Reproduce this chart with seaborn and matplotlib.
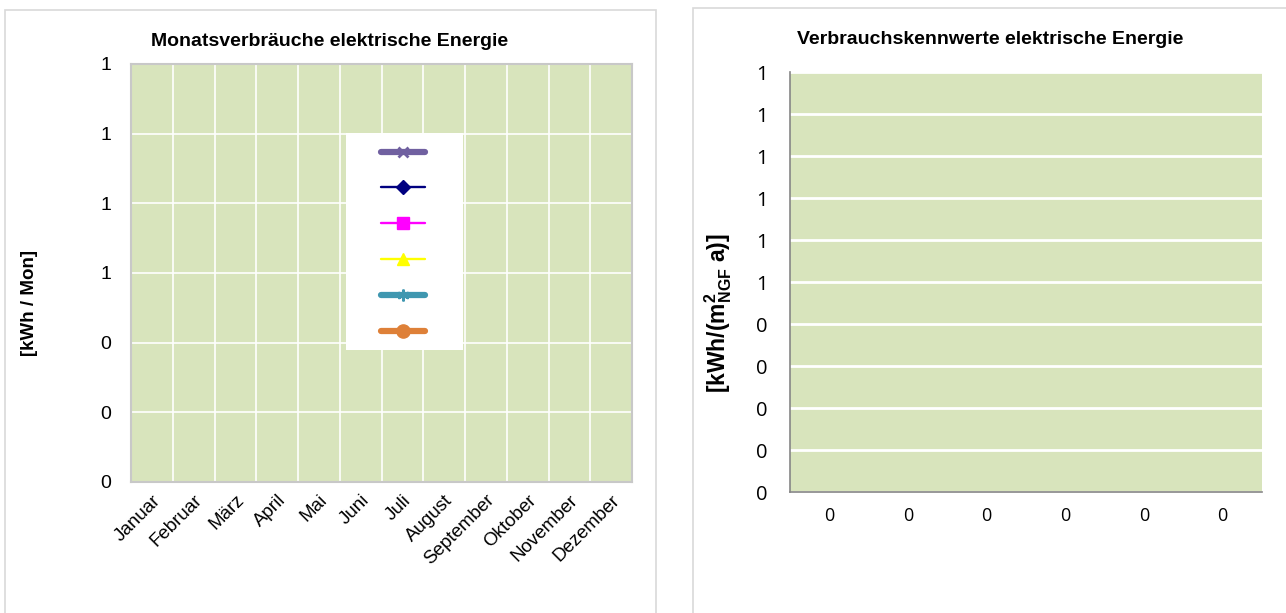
import numpy as np
import matplotlib
matplotlib.use("Agg")
import matplotlib.pyplot as plt
from matplotlib.patches import Rectangle
import seaborn as sns

# ---- data -------------------------------------------------------------
monate = ["Januar", "Februar", "März", "April", "Mai", "Juni", "Juli",
          "August", "September", "Oktober", "November", "Dezember"]
# monthly consumption per series (no readings entered yet)
reihe_1 = [np.nan] * 12
reihe_2 = [np.nan] * 12
reihe_3 = [np.nan] * 12
reihe_4 = [np.nan] * 12
reihe_5 = [np.nan] * 12
reihe_6 = [np.nan] * 12

monat_yticks = [0.0, 0.2, 0.4, 0.6, 0.8, 1.0, 1.2]
monat_ylabels = ["0", "0", "0", "1", "1", "1", "1"]

kennwert_kategorien = ["0", "0", "0", "0", "0", "0"]
kennwert_werte = [0.0, 0.0, 0.0, 0.0, 0.0, 0.0]
kennwert_yticks = [0.0, 0.1, 0.2, 0.3, 0.4, 0.5, 0.6, 0.7, 0.8, 0.9, 1.0]
kennwert_ylabels = ["0", "0", "0", "0", "0", "1", "1", "1", "1", "1", "1"]

# ---- style ------------------------------------------------------------
sns.set_theme(style="white")
plt.rcParams["font.family"] = ["Liberation Sans", "DejaVu Sans"]
plt.rcParams["text.color"] = "black"
plt.rcParams["xtick.labelcolor"] = "black"
plt.rcParams["ytick.labelcolor"] = "black"
plt.rcParams["mathtext.fontset"] = "custom"
plt.rcParams["mathtext.rm"] = "Liberation Sans:bold"
plt.rcParams["mathtext.it"] = "Liberation Sans:bold"
plt.rcParams["mathtext.bf"] = "Liberation Sans:bold"

W, H = 1286, 613
fig = plt.figure(figsize=(W / 100, H / 100), dpi=100)
fig.patch.set_facecolor("white")

def fx(px):
    return px / W

def fy(py):
    return 1 - py / H

# chart area frames
for x0, y0, x1 in [(5, 10, 656), (693, 8, 1300)]:
    fig.patches.append(Rectangle((fx(x0), fy(640)), fx(x1 - x0), (640 - y0) / H,
                                 transform=fig.transFigure, fill=False,
                                 edgecolor="#d9d9d9", linewidth=1.2, zorder=0))

plot_bg = "#d8e4bc"

# ---- left: monthly consumption ---------------------------------------
ax1 = fig.add_axes([fx(131), fy(482), fx(632 - 131), (482 - 64) / H])
ax1.set_facecolor(plot_bg)
x = np.arange(len(monate))
serien = [
    (reihe_1, "#7060a0", "x", 7.5, 4.5, 2.0),
    (reihe_2, "#000080", "D", 7, 1.7, 1.0),
    (reihe_3, "#ff00ff", "s", 8.5, 1.7, 1.0),
    (reihe_4, "#ffff00", "^", 9, 1.7, 1.0),
    (reihe_5, "#3f97b0", (6, 2, 0), 8.5, 4.5, 1.6),
    (reihe_6, "#de8038", "o", 9.5, 4.5, 1.0),
]
handles = []
for werte, farbe, marker, ms, lw, mew in serien:
    ln, = ax1.plot(x, werte, color=farbe, marker=marker, markersize=ms,
                   linewidth=lw, markeredgewidth=mew, solid_capstyle="round")
    handles.append(ln)

ax1.set_xlim(-0.5, len(monate) - 0.5)
ax1.set_ylim(monat_yticks[0], monat_yticks[-1])
ax1.set_yticks(monat_yticks)
ax1.set_yticklabels(monat_ylabels, fontsize=14)
ax1.set_xticks(np.arange(len(monate) + 1) - 0.5)
ax1.set_xticklabels([])
ax1.set_xticks(x, minor=True)
ax1.set_xticklabels(monate, minor=True, rotation=45, ha="right",
                    rotation_mode="anchor", fontsize=13.5)
ax1.tick_params(axis="x", which="major", length=5, color="#c0c0c0", width=1, direction="out")
ax1.tick_params(axis="x", which="minor", length=0, pad=7)
ax1.tick_params(axis="y", length=5, color="#c0c0c0", width=1, pad=9, direction="out")
ax1.grid(True, which="major", color="white", linewidth=1.2)
ax1.set_axisbelow(True)
for side in ["left", "bottom", "top", "right"]:
    ax1.spines[side].set_visible(True)
    ax1.spines[side].set_color("#c8c8c8")
    ax1.spines[side].set_linewidth(1.5)

# legend panel
ax1.add_patch(Rectangle((215 / 501, (482 - 350) / 418), 117 / 501, 217 / 418,
                        transform=ax1.transAxes, facecolor="white",
                        edgecolor="none", zorder=3))
leg = ax1.legend(handles, [""] * len(handles), loc="center",
                 bbox_to_anchor=((403 - 131) / 501, (482 - 242) / 418),
                 frameon=False, handlelength=3.2, handletextpad=0.0,
                 labelspacing=1.57, borderpad=0, fontsize=10)
leg.set_zorder(4)

fig.text(fx(330), fy(41), "Monatsverbräuche elektrische Energie",
         ha="center", va="center", fontsize=14, fontweight="bold")
fig.text(fx(29), fy(303), "[kWh / Mon]", ha="center", va="center",
         rotation=90, fontsize=13.5, fontweight="bold")

# ---- right: consumption indicators -----------------------------------
ax2 = fig.add_axes([fx(790), fy(492), fx(1262 - 790), (492 - 72) / H])
ax2.set_facecolor(plot_bg)
pos = np.arange(len(kennwert_kategorien))
sns.barplot(x=pos, y=kennwert_werte, ax=ax2, color="#4f81bd",
            native_scale=True, errorbar=None)
ax2.set_xlim(-0.5, len(kennwert_kategorien) - 0.5)
ax2.set_ylim(kennwert_yticks[0], kennwert_yticks[-1])
ax2.set_yticks(kennwert_yticks)
ax2.set_yticklabels(kennwert_ylabels, fontsize=14.5, family=["Open Sans", "DejaVu Sans"])
ax2.set_xticks(np.arange(len(kennwert_kategorien) + 1) - 0.5)
ax2.set_xticklabels([])
ax2.set_xticks(pos, minor=True)
ax2.set_xticklabels(kennwert_kategorien, minor=True, fontsize=13,
                    family=["Open Sans", "DejaVu Sans"])
ax2.tick_params(axis="x", which="major", length=6, color="#868686", width=1.2, direction="out")
ax2.tick_params(axis="x", which="minor", length=0, pad=11)
ax2.tick_params(axis="y", length=6, color="#868686", width=1.2, pad=10, direction="out")
ax2.set_xlabel("")
ax2.yaxis.grid(True, color="white", linewidth=2)
ax2.xaxis.grid(False)
ax2.set_axisbelow(True)
sns.despine(ax=ax2, top=True, right=True)
for side in ["left", "bottom"]:
    ax2.spines[side].set_color("#868686")
    ax2.spines[side].set_linewidth(1.2)

fig.text(fx(990), fy(39), "Verbrauchskennwerte elektrische Energie",
         ha="center", va="center", fontsize=14, fontweight="bold")
fig.text(fx(718), fy(313), r"[kWh/(m$^{2}_{NGF}$ a)]", ha="center", va="center",
         rotation=90, fontsize=16.5, fontweight="bold")

fig.savefig("out.png", dpi=100)
